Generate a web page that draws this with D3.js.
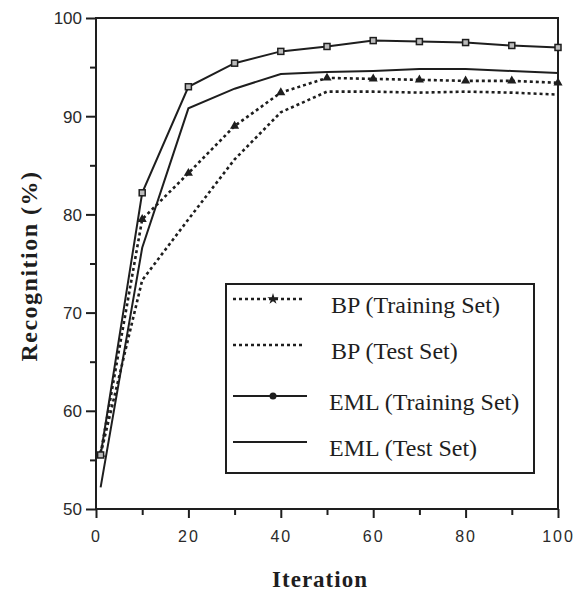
<!DOCTYPE html>
<html>
<head>
<meta charset="utf-8">
<script src="https://cdn.jsdelivr.net/npm/d3@7"></script>
<style>
  html, body { margin: 0; padding: 0; background: #fff; }
  svg { display: block; }
</style>
</head>
<body>
<div id="chart"></div>
<script>
// ── Data ──
const iterations = [1, 10, 20, 30, 40, 50, 60, 70, 80, 90, 100];
const bpTrain    = [55.6, 79.5, 84.2, 89.0, 92.4, 93.9, 93.8, 93.7, 93.6, 93.6, 93.4];
const bpTest     = [55.6, 73.3, 79.5, 85.6, 90.4, 92.5, 92.5, 92.4, 92.5, 92.4, 92.2];
const emlTrain   = [55.5, 82.2, 93.0, 95.4, 96.6, 97.1, 97.7, 97.6, 97.5, 97.2, 97.0];
const emlTest    = [52.2, 76.6, 90.8, 92.8, 94.3, 94.5, 94.6, 94.8, 94.8, 94.6, 94.4];

const xTicks = [0, 20, 40, 60, 80, 100];
const yTicks = [50, 60, 70, 80, 90, 100];

const seriesNames = ["BP (Training Set)", "BP (Test Set)", "EML (Training Set)", "EML (Test Set)"];

const W = 587, H = 599;
const INK = "#1e1e1e";

const series = [
  { name: seriesNames[0], values: bpTrain,  dotted: true,  marker: "triangle" },
  { name: seriesNames[1], values: bpTest,   dotted: true,  marker: null },
  { name: seriesNames[2], values: emlTrain, dotted: false, marker: "square" },
  { name: seriesNames[3], values: emlTest,  dotted: false, marker: null },
];

const x = d3.scaleLinear().domain([0, 100]).range([96, 558]);
const y = d3.scaleLinear().domain([50, 100]).range([509, 18]);

const svg = d3.select("#chart").append("svg")
  .attr("width", W).attr("height", H);

// ── Frame ──
svg.append("rect")
  .attr("x", x(0)).attr("y", y(100))
  .attr("width", x(100) - x(0)).attr("height", y(50) - y(100))
  .attr("fill", "none").attr("stroke", INK).attr("stroke-width", 2);

// ── Axes ──
const xAxis = svg.append("g").attr("transform", `translate(0,${y(50)})`);
xAxis.call(d3.axisBottom(x).tickValues(d3.range(0, 101, 10)).tickSize(0).tickFormat(""));
xAxis.select(".domain").remove();
xAxis.selectAll(".tick").append("line")
  .attr("y1", 0).attr("y2", d => d % 20 === 0 ? 9 : 6)
  .attr("stroke", INK).attr("stroke-width", 2);
xAxis.selectAll(".tick").filter(d => xTicks.includes(d)).append("text")
  .attr("y", 33)
  .attr("fill", "#2a2a2a")
  .style("font-family", "'Liberation Sans', Arial, sans-serif")
  .style("font-size", "16px")
  .style("letter-spacing", "2px")
  .attr("text-anchor", "middle")
  .text(d => d);

const yAxis = svg.append("g").attr("transform", `translate(${x(0)},0)`);
yAxis.call(d3.axisLeft(y).tickValues(d3.range(50, 101, 5)).tickSize(0).tickFormat(""));
yAxis.select(".domain").remove();
yAxis.selectAll(".tick").append("line")
  .attr("x1", 0).attr("x2", d => d % 10 === 0 ? -10 : -6)
  .attr("stroke", INK).attr("stroke-width", 2);
yAxis.selectAll(".tick").filter(d => yTicks.includes(d)).append("text")
  .attr("x", -14).attr("dy", "0.35em")
  .attr("fill", "#2a2a2a")
  .style("font-family", "'Liberation Sans', Arial, sans-serif")
  .style("font-size", "17px")
  .attr("text-anchor", "end")
  .text(d => d);

// ── Axis titles ──
svg.append("text")
  .attr("x", x(50) - 7).attr("y", 587)
  .attr("text-anchor", "middle")
  .attr("fill", INK)
  .style("font-family", "'Liberation Serif', 'Times New Roman', serif")
  .style("font-weight", "bold")
  .style("font-size", "23px")
  .style("letter-spacing", "1px")
  .text("Iteration");

svg.append("text")
  .attr("transform", `translate(37,266) rotate(-90)`)
  .attr("text-anchor", "middle")
  .attr("fill", INK)
  .style("font-family", "'Liberation Serif', 'Times New Roman', serif")
  .style("font-weight", "bold")
  .style("font-size", "24px")
  .style("letter-spacing", "1.5px")
  .text("Recognition (%)");

// ── Lines ──
const line = d3.line()
  .x((d, i) => x(iterations[i]))
  .y(d => y(d));

function drawMarker(g, type, cx, cy) {
  if (type === "square") {
    g.append("rect")
      .attr("x", cx - 3).attr("y", cy - 3)
      .attr("width", 6).attr("height", 6)
      .attr("fill", "#bbb").attr("stroke", INK).attr("stroke-width", 1.5);
  } else if (type === "triangle") {
    g.append("path")
      .attr("d", d3.symbol().type(d3.symbolTriangle).size(36)())
      .attr("transform", `translate(${cx},${cy})`)
      .attr("fill", INK);
  }
}

series.forEach(s => {
  svg.append("path")
    .datum(s.values)
    .attr("fill", "none")
    .attr("stroke", INK)
    .attr("stroke-width", s.dotted ? 2.6 : 2)
    .attr("stroke-dasharray", s.dotted ? "3,3" : null)
    .attr("d", line);
  if (s.marker) {
    const g = svg.append("g");
    s.values.forEach((v, i) => drawMarker(g, s.marker, x(iterations[i]), y(v)));
  }
});

// ── Legend ──
const legend = svg.append("g");
legend.append("rect")
  .attr("x", 226).attr("y", 284)
  .attr("width", 308).attr("height", 189)
  .attr("fill", "#fff").attr("stroke", INK).attr("stroke-width", 2);

const rowY = [299, 345, 396, 442];
series.forEach((s, i) => {
  const ly = rowY[i];
  legend.append("line")
    .attr("x1", 233).attr("x2", s.dotted ? 304 : 307)
    .attr("y1", ly).attr("y2", ly)
    .attr("stroke", INK)
    .attr("stroke-width", s.dotted ? 2.6 : 2)
    .attr("stroke-dasharray", s.dotted ? "3,3" : null);
  if (s.marker === "triangle") {
    legend.append("path")
      .attr("d", d3.symbol().type(d3.symbolStar).size(40)())
      .attr("transform", `translate(273,${ly})`)
      .attr("fill", INK);
  } else if (s.marker === "square") {
    legend.append("circle")
      .attr("cx", 273).attr("cy", ly).attr("r", 3.5)
      .attr("fill", INK);
  }
  legend.append("text")
    .attr("x", s.name.startsWith("BP") ? 331 : 329)
    .attr("y", ly + 14)
    .attr("fill", INK)
    .style("font-family", "'Liberation Serif', 'Times New Roman', serif")
    .style("font-size", "24px")
    .text(s.name);
});
</script>
</body>
</html>
